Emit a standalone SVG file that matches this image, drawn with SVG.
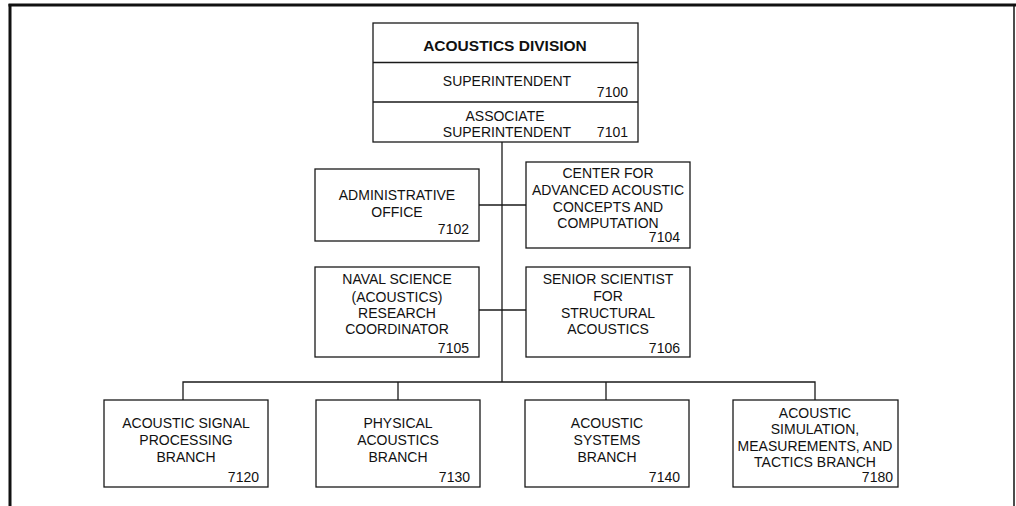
<svg xmlns="http://www.w3.org/2000/svg" width="1016" height="506" viewBox="0 0 1016 506">
<style>
.box{fill:#fff;stroke:#1a1a1a;stroke-width:1.3}
.ln{fill:none;stroke:#1a1a1a;stroke-width:1.3}
text{font-family:"Liberation Sans",Arial,sans-serif;font-size:14px;fill:#111}
.c{text-anchor:middle}
.r{text-anchor:end}
.b{font-weight:bold;font-size:15.5px}
</style>
<rect width="1016" height="506" fill="#fff"/>
<g id="frame">
<line x1="8.5" y1="5" x2="1016" y2="5" stroke="#111" stroke-width="3"/>
<line x1="10" y1="4" x2="10" y2="506" stroke="#111" stroke-width="3"/>
<line x1="1014" y1="4" x2="1014" y2="506" stroke="#111" stroke-width="1.5"/>
</g>
<g id="connectors">
<line class="ln" x1="502" y1="142" x2="502" y2="382"/>
<line class="ln" x1="479" y1="205" x2="526" y2="205"/>
<line class="ln" x1="479" y1="310" x2="526" y2="310"/>
<polyline class="ln" points="183,400 183,382 815,382 815,400"/>
<line class="ln" x1="398" y1="382" x2="398" y2="400"/>
<line class="ln" x1="606" y1="382" x2="606" y2="400"/>
</g>
<g id="division">
<rect class="box" x="373" y="23" width="265" height="119"/>
<line class="ln" x1="373" y1="62.5" x2="638" y2="62.5"/>
<line class="ln" x1="373" y1="102" x2="638" y2="102"/>
<text class="c b" x="505" y="51">ACOUSTICS DIVISION</text>
<text class="c" x="507" y="86">SUPERINTENDENT</text>
<text class="r" x="628" y="97">7100</text>
<text class="c" x="505" y="121">ASSOCIATE</text>
<text class="c" x="507" y="137">SUPERINTENDENT</text>
<text class="r" x="628" y="137">7101</text>
</g>
<g id="n7102">
<rect class="box" x="315" y="169" width="164" height="72"/>
<text class="c" x="397" y="200">ADMINISTRATIVE</text>
<text class="c" x="397" y="217">OFFICE</text>
<text class="r" x="469" y="234">7102</text>
</g>
<g id="n7104">
<rect class="box" x="526" y="162" width="164" height="86"/>
<text class="c" x="608" y="178">CENTER FOR</text>
<text class="c" x="608" y="195">ADVANCED ACOUSTIC</text>
<text class="c" x="608" y="212">CONCEPTS AND</text>
<text class="c" x="608" y="228">COMPUTATION</text>
<text class="r" x="680" y="242">7104</text>
</g>
<g id="n7105">
<rect class="box" x="315" y="267" width="164" height="90"/>
<text class="c" x="397" y="284">NAVAL SCIENCE</text>
<text class="c" x="397" y="302">(ACOUSTICS)</text>
<text class="c" x="397" y="318">RESEARCH</text>
<text class="c" x="397" y="334">COORDINATOR</text>
<text class="r" x="469" y="353">7105</text>
</g>
<g id="n7106">
<rect class="box" x="526" y="267" width="164" height="90"/>
<text class="c" x="608" y="284">SENIOR SCIENTIST</text>
<text class="c" x="608" y="301">FOR</text>
<text class="c" x="608" y="318">STRUCTURAL</text>
<text class="c" x="608" y="334">ACOUSTICS</text>
<text class="r" x="680" y="353">7106</text>
</g>
<g id="n7120">
<rect class="box" x="104" y="400" width="164" height="87"/>
<text class="c" x="186" y="428">ACOUSTIC SIGNAL</text>
<text class="c" x="186" y="445">PROCESSING</text>
<text class="c" x="186" y="462">BRANCH</text>
<text class="r" x="259" y="482">7120</text>
</g>
<g id="n7130">
<rect class="box" x="316" y="400" width="164" height="87"/>
<text class="c" x="398" y="428">PHYSICAL</text>
<text class="c" x="398" y="445">ACOUSTICS</text>
<text class="c" x="398" y="462">BRANCH</text>
<text class="r" x="470" y="482">7130</text>
</g>
<g id="n7140">
<rect class="box" x="525" y="400" width="164" height="87"/>
<text class="c" x="607" y="428">ACOUSTIC</text>
<text class="c" x="607" y="445">SYSTEMS</text>
<text class="c" x="607" y="462">BRANCH</text>
<text class="r" x="680" y="482">7140</text>
</g>
<g id="n7180">
<rect class="box" x="733" y="400" width="165" height="87"/>
<text class="c" x="815" y="418">ACOUSTIC</text>
<text class="c" x="815" y="434">SIMULATION,</text>
<text class="c" x="815" y="451">MEASUREMENTS, AND</text>
<text class="c" x="815" y="467">TACTICS BRANCH</text>
<text class="r" x="893" y="482">7180</text>
</g>
</svg>
